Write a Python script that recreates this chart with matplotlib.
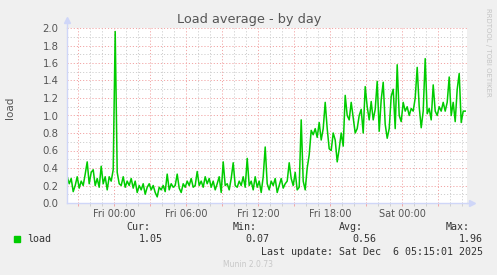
import numpy as np
import pandas as pd
import matplotlib
matplotlib.use("Agg")
import matplotlib.pyplot as plt
import matplotlib.dates as mdates

# ---- data (10-minute samples, Thu 20:05 -> Sat 05:15) ----
start_time = "2025-12-04 20:05"
step = "10min"
load = [
    0.30, 0.22, 0.28, 0.13, 0.20, 0.30, 0.17, 0.25, 0.20, 0.33,
    0.47, 0.22, 0.35, 0.38, 0.20, 0.28, 0.18, 0.42, 0.22, 0.30,
    0.15, 0.30, 0.25, 0.38, 1.96, 0.35, 0.22, 0.20, 0.30, 0.18,
    0.25, 0.20, 0.28, 0.17, 0.25, 0.12, 0.20, 0.15, 0.22, 0.10,
    0.18, 0.22, 0.15, 0.20, 0.12, 0.07, 0.18, 0.15, 0.20, 0.13,
    0.33, 0.15, 0.22, 0.18, 0.20, 0.33, 0.17, 0.12, 0.22, 0.18,
    0.25, 0.20, 0.28, 0.18, 0.20, 0.36, 0.20, 0.25, 0.18, 0.30,
    0.22, 0.28, 0.18, 0.25, 0.15, 0.22, 0.30, 0.12, 0.47, 0.20,
    0.22, 0.15, 0.28, 0.46, 0.20, 0.18, 0.25, 0.20, 0.30, 0.18,
    0.51, 0.20, 0.25, 0.15, 0.30, 0.18, 0.25, 0.12, 0.30, 0.64,
    0.22, 0.15, 0.25, 0.20, 0.28, 0.12, 0.20, 0.28, 0.17, 0.22,
    0.25, 0.46, 0.28, 0.20, 0.35, 0.15, 0.18, 0.95, 0.25, 0.15,
    0.40, 0.55, 0.83, 0.78, 0.85, 0.75, 0.92, 0.72, 0.85, 1.15,
    0.85, 0.62, 0.60, 0.80, 0.72, 0.47, 0.62, 0.80, 0.65, 1.23,
    1.00, 0.95, 1.15, 0.97, 0.80, 0.85, 1.00, 1.07, 0.80, 1.33,
    1.10, 0.95, 1.16, 0.95, 1.07, 1.39, 0.82, 1.18, 1.38, 0.90,
    0.74, 0.85, 1.22, 1.30, 0.85, 1.58, 1.00, 0.93, 1.15, 1.05,
    1.10, 1.00, 1.08, 1.05, 1.20, 1.55, 1.10, 0.86, 1.05, 1.65,
    1.02, 1.08, 0.95, 1.35, 1.05, 1.00, 1.10, 1.05, 1.15, 1.05,
    1.15, 1.44, 1.00, 1.15, 0.93, 1.30, 1.48, 0.92, 1.05, 1.05,
]
x_range = ["2025-12-04 20:04", "2025-12-06 05:24"]
y_range = [0.0, 2.0]
title = "Load average - by day"
ylabel = "load"
legend_label = "load"
stat_names = ["Cur:", "Min:", "Avg:", "Max:"]
stat_values = ["1.05", "0.07", "0.56", "1.96"]
last_update = "Last update: Sat Dec  6 05:15:01 2025"
footer = "Munin 2.0.73"
side_text = "RRDTOOL / TOBI OETIKER"

times = pd.date_range(start_time, periods=len(load), freq=step)

# ---- figure ----
W, H = 497, 275
BG = "#F0F0F0"
FONT = "#555555"
GREEN = "#00CC00"
AXISC = "#CFD6F8"
MGRID = "#F2A6A6"
GRID = "#CFCFCF"

fig = plt.figure(figsize=(W / 100, H / 100), dpi=100, facecolor=BG)
ax = fig.add_axes([67 / W, 1 - 203 / H, 400 / W, 175 / H])
ax.set_facecolor("white")

ax.plot(times, load, color=GREEN, lw=1.1, zorder=5)

ax.set_xlim(pd.Timestamp(x_range[0]), pd.Timestamp(x_range[1]))
ax.set_ylim(*y_range)

# x ticks
ax.xaxis.set_major_locator(mdates.HourLocator(byhour=range(0, 24, 3)))
ax.xaxis.set_minor_locator(mdates.HourLocator())


def xfmt(v, pos):
    d = mdates.num2date(v)
    return d.strftime("%a %H:%M") if d.hour % 6 == 0 else ""


ax.xaxis.set_major_formatter(plt.FuncFormatter(xfmt))
ax.yaxis.set_major_locator(plt.MultipleLocator(0.2))
ax.yaxis.set_minor_locator(plt.MultipleLocator(0.1))
ax.yaxis.set_major_formatter(plt.FormatStrFormatter("%.1f"))

ax.grid(which="minor", color=GRID, lw=0.7, linestyle=(0, (1.2, 2.0)), zorder=1)
ax.grid(which="major", color=MGRID, lw=0.7, linestyle=(0, (1.2, 2.0)), zorder=2)
ax.set_axisbelow(True)

ax.tick_params(axis="x", which="major", length=2.5, width=0.7, color=MGRID,
               labelsize=7, labelcolor=FONT, pad=2)
ax.tick_params(axis="x", which="minor", length=2, width=0.7, color=GRID)
ax.tick_params(axis="y", which="major", length=0, labelsize=7.3,
               labelcolor=FONT, pad=6)
ax.tick_params(axis="y", which="minor", length=0)

for s in ["top", "right"]:
    ax.spines[s].set_visible(False)
for s in ["left", "bottom"]:
    ax.spines[s].set_color(AXISC)
    ax.spines[s].set_linewidth(1.0)
    ax.spines[s].set_zorder(6)

# axis arrows
ax.plot([0, 0], [1, 1.035], transform=ax.transAxes, color=AXISC, lw=1.0,
        clip_on=False)
ax.plot([0], [1.045], transform=ax.transAxes, marker="^", color=AXISC,
        markersize=5, clip_on=False)
ax.plot([1, 1.01], [0, 0], transform=ax.transAxes, color=AXISC, lw=1.0,
        clip_on=False)
ax.plot([1.0125], [0], transform=ax.transAxes, marker=">", color=AXISC,
        markersize=5, clip_on=False)


def P(x, y):
    return x / W, 1 - y / H


fig.text(*P(249, 20), title, ha="center", va="center", fontsize=9.3,
         color=FONT)
fig.text(*P(10, 108), ylabel, ha="center", va="center", rotation=90,
         fontsize=7.5, color=FONT)
fig.text(*P(488, 52), side_text, ha="center", va="center", rotation=270,
         fontsize=5, color="#C4C4C4")

mono = "DejaVu Sans Mono"
fs = 7.2
fig.patches.append(plt.Rectangle(P(14, 242), 6 / W, 6 / H, color=GREEN,
                                 transform=fig.transFigure, figure=fig))
fig.text(*P(27, 239.5), legend_label, ha="left", va="center",
         family=mono, fontsize=fs, color="#333333")
name_r = [150, 257, 363, 470]
val_r = [163, 269, 376, 483]
for n, v, xr, xv in zip(stat_names, stat_values, name_r, val_r):
    fig.text(*P(xr, 227.5), n, ha="right", va="center", family=mono,
             fontsize=fs, color="#333333")
    fig.text(*P(xv, 239.5), v, ha="right", va="center", family=mono,
             fontsize=fs, color="#333333")
fig.text(*P(483, 252), last_update, ha="right", va="center", family=mono,
         fontsize=fs, color="#333333")
fig.text(*P(248, 264.5), footer, ha="center", va="center", fontsize=5.5,
         color="#C8C8C8")

fig.savefig("out.png", dpi=100, facecolor=BG)
